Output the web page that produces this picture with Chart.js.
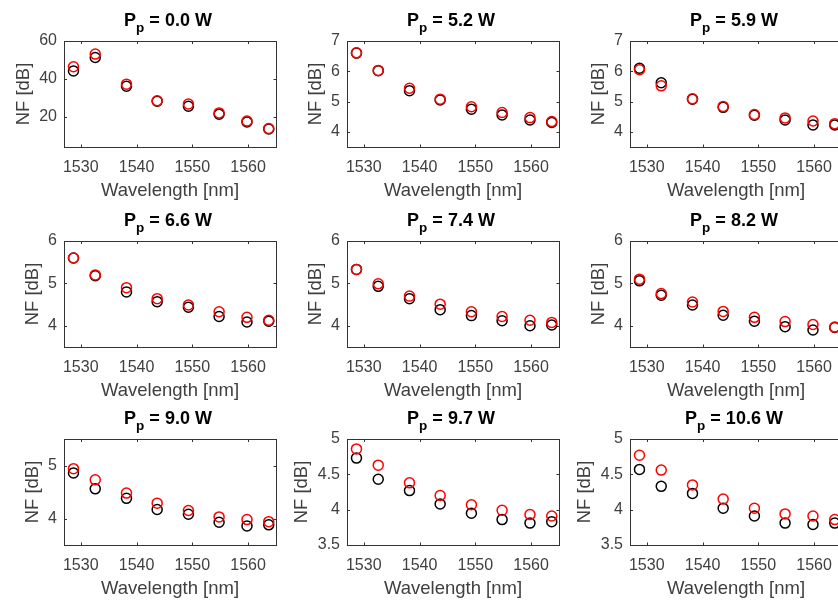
<!DOCTYPE html>
<html>
<head>
<meta charset="utf-8">
<script src="https://cdn.jsdelivr.net/npm/chart.js@4.4.1/dist/chart.umd.min.js"></script>
<style>
  html, body { margin: 0; padding: 0; background: #fff; overflow: hidden; }
  body { width: 838px; height: 603px; position: relative; }
  canvas { position: absolute; }
</style>
</head>
<body>
<script>
const wavelength = [1528.7, 1532.6, 1538.2, 1543.7, 1549.3, 1554.8, 1559.8, 1563.7];
const pumpPower = ['0.0', '5.2', '5.9', '6.6', '7.4', '8.2', '9.0', '9.7', '10.6'];

const nfBlack = [
  [44.2, 51.3, 36.1, 28.2, 25.5, 21.3, 17.2, 13.5],
  [6.60, 6.02, 5.36, 5.05, 4.75, 4.56, 4.39, 4.31],
  [6.10, 5.62, 5.08, 4.81, 4.55, 4.39, 4.23, 4.23],
  [5.60, 5.18, 4.80, 4.57, 4.44, 4.22, 4.09, 4.11],
  [5.33, 4.93, 4.64, 4.38, 4.24, 4.12, 4.00, 4.02],
  [5.06, 4.72, 4.49, 4.25, 4.11, 3.98, 3.90, 3.96],
  [4.86, 4.56, 4.38, 4.17, 4.08, 3.93, 3.86, 3.88],
  [4.73, 4.43, 4.27, 4.08, 3.95, 3.86, 3.81, 3.83],
  [4.57, 4.33, 4.23, 4.02, 3.91, 3.81, 3.79, 3.81]
];
const nfRed = [
  [46.4, 53.1, 37.2, 28.4, 26.7, 22.0, 17.7, 13.8],
  [6.61, 6.03, 5.44, 5.08, 4.83, 4.64, 4.47, 4.34],
  [6.05, 5.52, 5.09, 4.84, 4.57, 4.46, 4.36, 4.27],
  [5.60, 5.20, 4.90, 4.64, 4.49, 4.33, 4.20, 4.13],
  [5.33, 4.99, 4.70, 4.51, 4.33, 4.22, 4.13, 4.08],
  [5.10, 4.76, 4.56, 4.34, 4.20, 4.10, 4.03, 3.97],
  [4.94, 4.73, 4.48, 4.29, 4.15, 4.03, 3.98, 3.94],
  [4.86, 4.63, 4.38, 4.20, 4.07, 3.99, 3.93, 3.91],
  [4.77, 4.56, 4.35, 4.15, 4.02, 3.94, 3.91, 3.86]
];

const xTicks = [1530, 1540, 1550, 1560];
const xMin = 1527, xMax = 1565;
const yTicks = [
  [20, 40, 60], [4, 5, 6, 7], [4, 5, 6, 7],
  [4, 5, 6], [4, 5, 6], [4, 5, 6],
  [4, 5], [3.5, 4, 4.5, 5], [3.5, 4, 4.5, 5]
];
const yMin = [4, 3.5, 3.5, 3.5, 3.5, 3.5, 3.5, 3.5, 3.5];
const yMax = [60, 7, 7, 6, 6, 6, 5.5, 5, 5];

// panel geometry (px)
const colLeft = [0, 283, 566];
const rowTop = [0, 200, 398];
const W = 283, H = 210;
const plotL = 64, plotT = 41, plotR = 276, plotB = 147;

const FONT = "'Liberation Sans', Arial, Helvetica, sans-serif";
const txtColor = '#404040';
const tickPad = 7, titleGap = 4.5, axisTitleSize = 18.5, tickSize = 16;

const mctx = document.createElement('canvas').getContext('2d');
mctx.font = tickSize + 'px ' + FONT;
function labelWidth(ticks) {
  return Math.max(...ticks.map(t => mctx.measureText(String(t)).width));
}

const axesBox = {
  id: 'axesBox',
  beforeDatasetsDraw(chart, args, opts) {
    const {ctx, chartArea: {left, right, top, bottom}, scales: {x, y}} = chart;
    ctx.save();
    ctx.strokeStyle = '#333';
    ctx.lineWidth = 1;
    ctx.strokeRect(left + 0.5, top + 0.5, right - left, bottom - top);
    ctx.beginPath();
    xTicks.forEach(v => {
      const px = Math.round(x.getPixelForValue(v)) + 0.5;
      ctx.moveTo(px, bottom); ctx.lineTo(px, bottom - 2.5);
      ctx.moveTo(px, top + 0.5); ctx.lineTo(px, top + 3);
    });
    opts.yTicks.forEach(v => {
      const py = Math.round(y.getPixelForValue(v)) + 0.5;
      ctx.moveTo(left + 0.5, py); ctx.lineTo(left + 3, py);
      ctx.moveTo(right, py); ctx.lineTo(right - 2.5, py);
    });
    ctx.stroke();
    ctx.restore();
  }
};

const panelTitle = {
  id: 'panelTitle',
  afterDraw(chart, args, opts) {
    const {ctx, chartArea: {left, right, top}} = chart;
    const big = 'bold 18px ' + FONT, small = 'bold 13.5px ' + FONT;
    const rest = ' = ' + opts.power + ' W';
    ctx.save();
    ctx.fillStyle = '#000';
    ctx.textBaseline = 'alphabetic';
    ctx.textAlign = 'left';
    ctx.font = big;
    const wP = ctx.measureText('P').width, wR = ctx.measureText(rest).width;
    ctx.font = small;
    const wp = ctx.measureText('p').width;
    let x = (left + right) / 2 - 2 - (wP + wp + wR) / 2;
    ctx.font = big;
    ctx.fillText('P', x, top - 15.5);
    x += wP;
    ctx.font = small;
    ctx.fillText('p', x, top - 9);
    x += wp;
    ctx.font = big;
    ctx.fillText(rest, x, top - 15.5);
    ctx.restore();
  }
};

for (let i = 0; i < 9; i++) {
  const cv = document.createElement('canvas');
  cv.width = W;
  cv.height = H;
  cv.style.left = colLeft[i % 3] + 'px';
  cv.style.top = rowTop[Math.floor(i / 3)] + 'px';
  document.body.appendChild(cv);

  const yNatural = axisTitleSize * 1.2 + titleGap + labelWidth(yTicks[i]) + tickPad;
  const padLeft = plotL - yNatural;

  const pts = arr => wavelength.map((w, j) => ({x: w, y: arr[j]}));

  new Chart(cv, {
    type: 'scatter',
    data: {
      datasets: [
        {label: 'red', data: pts(nfRed[i]), borderColor: '#ff0000', order: 1},
        {label: 'black', data: pts(nfBlack[i]), borderColor: '#000000', order: 2}
      ]
    },
    options: {
      responsive: false,
      animation: false,
      devicePixelRatio: 1,
      events: [],
      clip: false,
      layout: {padding: {left: padLeft, top: plotT, right: W - plotR, bottom: 0}},
      elements: {
        point: {radius: 5, hoverRadius: 5, borderWidth: 1.5, backgroundColor: 'rgba(0,0,0,0)'}
      },
      plugins: {
        legend: {display: false},
        tooltip: {enabled: false},
        panelTitle: {power: pumpPower[i]},
        axesBox: {yTicks: yTicks[i]}
      },
      scales: {
        x: {
          type: 'linear',
          min: xMin,
          max: xMax,
          grid: {display: false, drawTicks: false},
          border: {display: false},
          afterBuildTicks: s => { s.ticks = xTicks.map(v => ({value: v})); },
          afterFit: s => { s.height = H - plotB; },
          ticks: {
            color: txtColor, font: {family: FONT, size: tickSize}, padding: 11,
            maxRotation: 0, autoSkip: false, callback: v => String(v)
          },
          title: {
            display: true, text: 'Wavelength [nm]', color: txtColor,
            font: {family: FONT, size: axisTitleSize}, padding: {top: 0, bottom: 8}
          }
        },
        y: {
          type: 'linear',
          min: yMin[i],
          max: yMax[i],
          grid: {display: false, drawTicks: false},
          border: {display: false},
          afterBuildTicks: s => { s.ticks = yTicks[i].map(v => ({value: v})); },
          afterFit: s => { s.width = plotL - padLeft; },
          ticks: {
            color: txtColor, font: {family: FONT, size: tickSize}, padding: tickPad,
            callback: v => String(v)
          },
          title: {
            display: true, text: 'NF [dB]', color: txtColor,
            font: {family: FONT, size: axisTitleSize}, padding: {top: 0, bottom: titleGap}
          }
        }
      }
    },
    plugins: [axesBox, panelTitle]
  });
}
</script>
</body>
</html>
